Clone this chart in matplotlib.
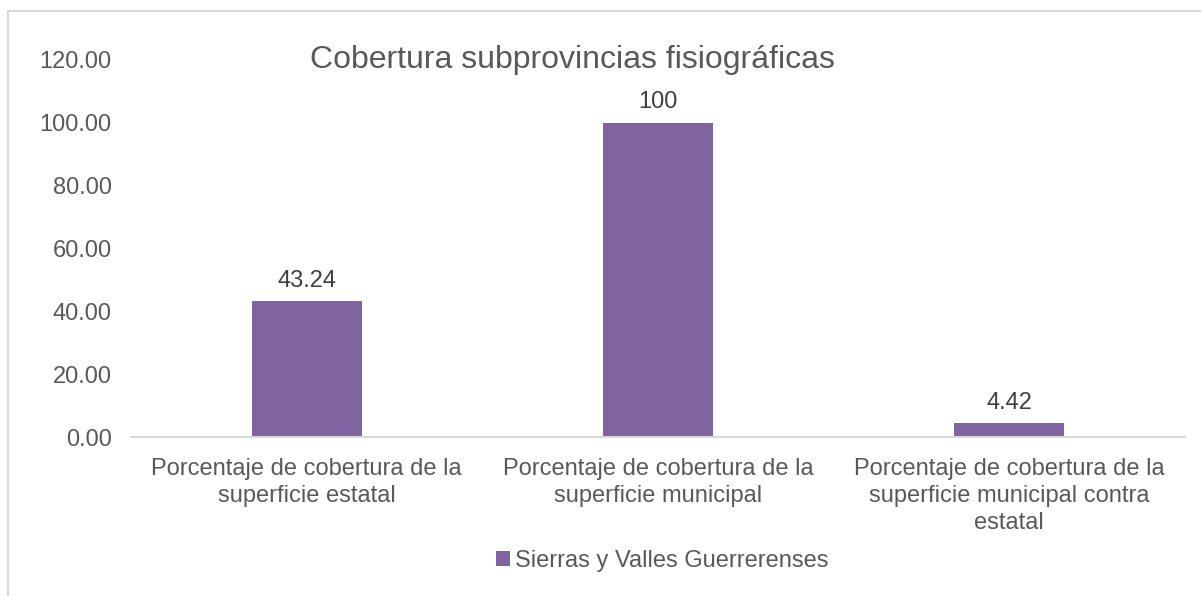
import matplotlib.pyplot as plt
from matplotlib.patches import Rectangle

plt.rcParams['font.family'] = ['Liberation Sans', 'DejaVu Sans']

categories = ['Porcentaje de cobertura de la\nsuperficie estatal',
              'Porcentaje de cobertura de la\nsuperficie municipal',
              'Porcentaje de cobertura de la\nsuperficie municipal contra\nestatal']
values = [43.24, 100, 4.42]
value_labels = ['43.24', '100', '4.42']
series_name = 'Sierras y Valles Guerrerenses'
yticks = [0, 20, 40, 60, 80, 100, 120]

W, H = 1201, 596
fig = plt.figure(figsize=(W / 100, H / 100), dpi=100)

# outer chart frame
fig.patches.append(Rectangle((8 / W, -0.1), 1.2, (H - 11) / H + 0.1, transform=fig.transFigure,
                             fill=False, edgecolor='#d9d9d9', linewidth=1.5))

ax = fig.add_axes([131 / W, 159 / H, (1185 - 131) / W, (437 - 60) / H])
x = range(len(categories))
ax.bar(x, values, width=0.3125, color='#8064a2', label=series_name, zorder=2)
for xi, v, t in zip(x, values, value_labels):
    ax.text(xi, v + 3.0, t, ha='center', va='bottom', fontsize=17, color='#404040')

ax.set_xlim(-0.5, 2.5)
ax.set_ylim(0, 120)
ax.set_yticks(yticks)
ax.set_yticklabels(['{:.2f}'.format(t) for t in yticks])
ax.set_xticks(list(x))
ax.set_xticklabels(categories, linespacing=1.3)
ax.tick_params(axis='both', length=0, labelsize=17, labelcolor='#595959')
ax.tick_params(axis='y', pad=14)
ax.tick_params(axis='x', pad=15)
for s in ['top', 'right', 'left']:
    ax.spines[s].set_visible(False)
ax.spines['bottom'].set_color('#d9d9d9')
ax.spines['bottom'].set_linewidth(1.5)

fig.text(572 / W, 1 - 60 / H, 'Cobertura subprovincias fisiográficas', ha='center', va='center',
         fontsize=23, color='#595959')

leg = fig.legend(loc='center', bbox_to_anchor=(662 / W, 1 - 561 / H), frameon=False, fontsize=17,
                 handlelength=0.6, handleheight=0.6, handletextpad=0.2)
for t in leg.get_texts():
    t.set_color('#595959')

fig.savefig('out.png', dpi=100)
